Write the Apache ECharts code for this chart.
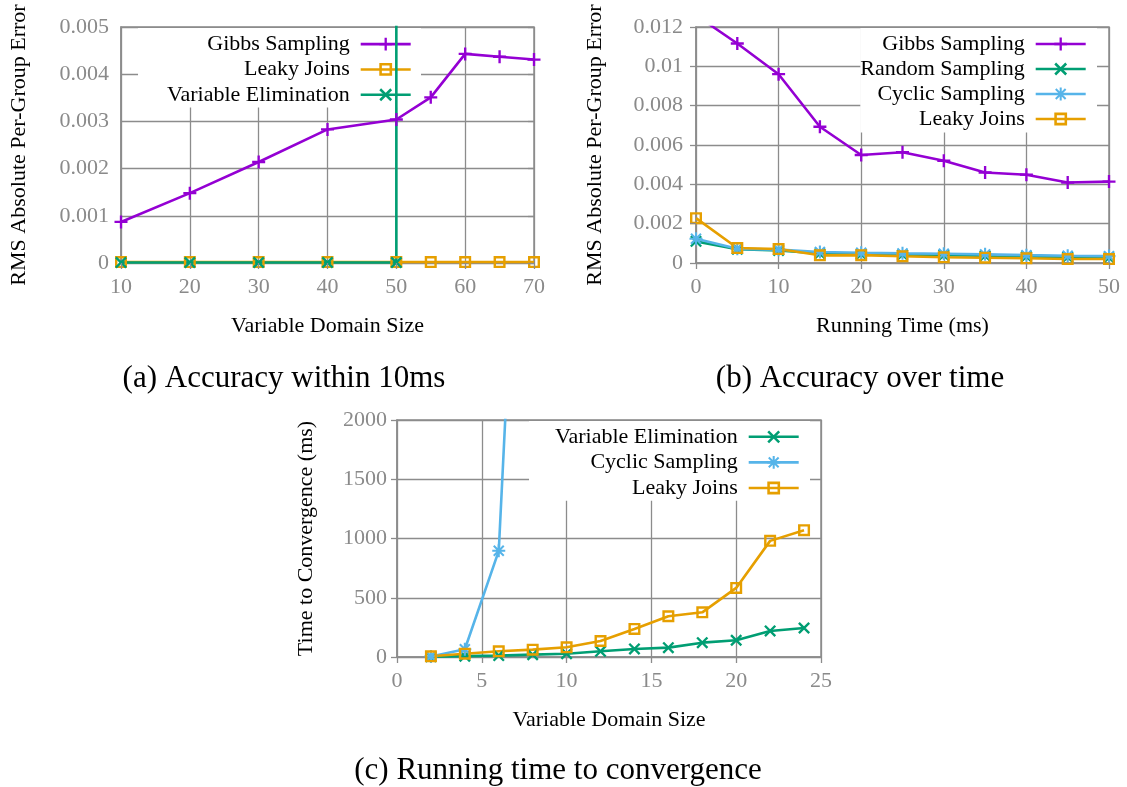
<!DOCTYPE html>
<html><head><meta charset="utf-8">
<script src="https://cdn.jsdelivr.net/npm/echarts@6/dist/echarts.min.js"></script>
<style>html,body{margin:0;padding:0;background:#fff}#c{width:1127px;height:787px}</style>
</head><body><div id="c"></div>
<script>
// ---------- Panel (a): Accuracy within 10ms ----------
const aX = [10, 20, 30, 40, 50, 55, 60, 65, 70];
const aGibbs = [0.00087, 0.00148, 0.00214, 0.00283, 0.00304, 0.00351, 0.00443, 0.00437, 0.00431];
const aLeaky = [0.00002, 0.00002, 0.00002, 0.00002, 0.00002, 0.00002, 0.00002, 0.00002, 0.00002];
const aVEX = [10, 20, 30, 40, 50, 50];
const aVE = [0.00001, 0.00001, 0.00001, 0.00001, 0.00001, 0.05];
// ---------- Panel (b): Accuracy over time ----------
const bX = [0, 5, 10, 15, 20, 25, 30, 35, 40, 45, 50];
const bGibbs = [0.0126, 0.01116, 0.0096, 0.00693, 0.00549, 0.00563, 0.0052, 0.0046, 0.00449, 0.00409, 0.00414];
const bRandom = [0.0011, 0.0007, 0.00064, 0.00048, 0.00045, 0.00042, 0.0004, 0.00037, 0.00033, 0.0003, 0.00028];
const bCyclic = [0.00123, 0.00072, 0.00068, 0.00056, 0.00052, 0.00049, 0.00047, 0.00044, 0.0004, 0.00037, 0.00035];
const bLeaky = [0.00228, 0.00076, 0.00071, 0.00039, 0.0004, 0.00034, 0.00029, 0.00027, 0.00024, 0.0002, 0.0002];
// ---------- Panel (c): Running time to convergence ----------
const cX = [2, 4, 6, 8, 10, 12, 14, 16, 18, 20, 22, 24];
const cVE = [3, 7, 12, 20, 28, 48, 68, 79, 121, 141, 220, 245];
const cCyclicX = [2, 4, 6, 8];
const cCyclic = [5, 65, 896, 6700];
const cLeaky = [6, 28, 48, 62, 82, 135, 237, 344, 377, 583, 980, 1070];

const captions = ['(a) Accuracy within 10ms', '(b) Accuracy over time', '(c) Running time to convergence'];
const xNames = ['Variable Domain Size', 'Running Time (ms)', 'Variable Domain Size'];
const yName = ['RMS Absolute Per-Group Error', 'RMS Absolute Per-Group Error', 'Time to Convergence (ms)'];

const FONT = 'Liberation Serif';
const FS = 22;
const GRAY = '#8a8a8a';
const GRID = '#8c8c8c';
const C = { gibbs: '#9400d3', green: '#009e73', blue: '#56b4e9', orange: '#e69f00' };
const SYM = {
  plus: 'path://M4.1,0H5.9V10H4.1Z M0,4.1H10V5.9H0Z',
  cross: 'path://M0,1.4L1.4,0L10,8.6L8.6,10Z M8.6,0L10,1.4L1.4,10L0,8.6Z',
  star: 'path://M4.2,0H5.8V10H4.2Z M0,4.2H10V5.8H0Z M0.6,1.7L1.7,0.6L9.4,8.3L8.3,9.4Z M8.3,0.6L9.4,1.7L1.7,9.4L0.6,8.3Z',
  square: 'path://M0,0H10V10H0Z M2,2V8H8V2Z'
};

function zip(xs, ys) { return xs.map((x, i) => [x, ys[i]]); }

function series(name, idx, xs, ys, color, sym, size) {
  return {
    name, type: 'line', xAxisIndex: idx, yAxisIndex: idx,
    data: zip(xs, ys), z: 5, clip: true,
    symbol: sym, symbolSize: size || 12, symbolKeepAspect: true,
    lineStyle: { color, width: 2.6 },
    itemStyle: { color, borderWidth: 0 },
    emphasis: { disabled: true }, animation: false
  };
}

const grids = [
  { left: 121, top: 27, width: 413, height: 236 },
  { left: 696, top: 27, width: 413, height: 236 },
  { left: 397, top: 420, width: 424, height: 237 }
];
const xCfg = [
  { min: 10, max: 70, interval: 10, labelMargin: 13, nameGap: 52 },
  { min: 0, max: 50, interval: 10, labelMargin: 13, nameGap: 52 },
  { min: 0, max: 25, interval: 5, labelMargin: 13, nameGap: 52 }
];
const yCfg = [
  { min: 0, max: 0.005, interval: 0.001, labelMargin: 12, nameGap: 91 },
  { min: 0, max: 0.012, interval: 0.002, labelMargin: 13, nameGap: 90 },
  { min: 0, max: 2000, interval: 500, labelMargin: 10, nameGap: 80 }
];

const xAxes = [], yAxes = [];
grids.forEach((g, i) => {
  xAxes.push({
    type: 'value', gridIndex: i, min: xCfg[i].min, max: xCfg[i].max, interval: xCfg[i].interval,
    name: xNames[i], nameLocation: 'middle', nameGap: xCfg[i].nameGap,
    nameTextStyle: { fontFamily: FONT, fontSize: FS, color: '#000' },
    axisLine: { show: true, lineStyle: { color: GRID, width: 1.5 } },
    axisTick: { show: false },
    axisLabel: { fontFamily: FONT, fontSize: FS, color: GRAY, margin: xCfg[i].labelMargin, formatter: v => String(v) },
    splitLine: { show: true, lineStyle: { color: GRID, width: 1.3 } }
  });
  yAxes.push({
    type: 'value', gridIndex: i, min: yCfg[i].min, max: yCfg[i].max, interval: yCfg[i].interval,
    name: yName[i], nameLocation: 'middle', nameGap: yCfg[i].nameGap,
    nameTextStyle: { fontFamily: FONT, fontSize: FS, color: '#000' },
    axisLine: { show: true, lineStyle: { color: GRID, width: 1.5 } },
    axisTick: { show: false },
    axisLabel: { fontFamily: FONT, fontSize: FS, color: GRAY, margin: yCfg[i].labelMargin,
      formatter: v => String(parseFloat(v.toPrecision(6))) },
    splitLine: { show: true, lineStyle: { color: GRID, width: 1.3 } }
  });
});
// mirrored ticks (drawn above legend boxes, as in gnuplot)
grids.forEach((g, i) => {
  xAxes.push({
    type: 'value', gridIndex: i, position: 'top', min: xCfg[i].min, max: xCfg[i].max, interval: xCfg[i].interval,
    z: 6, axisLine: { show: false }, axisLabel: { show: false }, splitLine: { show: false },
    axisTick: { show: true, inside: true, length: 6, lineStyle: { color: GRID, width: 1.3 } }
  });
  yAxes.push({
    type: 'value', gridIndex: i, position: 'right', min: yCfg[i].min, max: yCfg[i].max, interval: yCfg[i].interval,
    z: 6, axisLine: { show: false }, axisLabel: { show: false }, splitLine: { show: false },
    axisTick: { show: true, inside: true, length: 6, lineStyle: { color: GRID, width: 1.3 } }
  });
});

function legend(names, right, top, padding, lh) {
  return {
    data: names, orient: 'vertical', align: 'right', right, top, padding,
    itemGap: 0, itemWidth: 50, itemHeight: 16, selectedMode: false,
    backgroundColor: '#fff', z: 4,
    lineStyle: { width: 2.6 },
    textStyle: { fontFamily: FONT, fontSize: FS, color: '#000', lineHeight: lh, padding: [0, 6, 0, 0] }
  };
}

const option = {
  backgroundColor: '#fff',
  animation: false,
  grid: grids.map(g => Object.assign({ show: true, borderColor: GRID, borderWidth: 1.5, backgroundColor: 'transparent' }, g)),
  xAxis: xAxes,
  yAxis: yAxes,
  legend: [
    legend(['Gibbs Sampling', 'Leaky Joins', 'Variable Elimination'], 706, 28, [3.5, 9, 0, 29], 25.3),
    legend(['Gibbs Sampling', 'Random Sampling', 'Cyclic Sampling', 'Leaky Joins'], 30, 28, [3.5, 10, 1, 0], 25),
    legend(['Variable Elimination', 'Cyclic Sampling', 'Leaky Joins'], 317, 421, [3, 10, 0, 26], 25.6)
  ],
  series: [
    series('Gibbs Sampling', 0, aX, aGibbs, C.gibbs, SYM.plus, 13),
    series('Leaky Joins', 0, aX, aLeaky, C.orange, SYM.square, 12),
    series('Variable Elimination', 0, aVEX, aVE, C.green, SYM.cross, 12),
    series('Gibbs Sampling', 1, bX, bGibbs, C.gibbs, SYM.plus, 13),
    series('Random Sampling', 1, bX, bRandom, C.green, SYM.cross, 12),
    series('Cyclic Sampling', 1, bX, bCyclic, C.blue, SYM.star, 13),
    series('Leaky Joins', 1, bX, bLeaky, C.orange, SYM.square, 12),
    series('Variable Elimination', 2, cX, cVE, C.green, SYM.cross, 12),
    series('Cyclic Sampling', 2, cCyclicX, cCyclic, C.blue, SYM.star, 13),
    series('Leaky Joins', 2, cX, cLeaky, C.orange, SYM.square, 12)
  ],
  graphic: [
    { type: 'text', x: 284, y: 379, style: { text: captions[0], font: '31px "Liberation Serif"', fill: '#000', textAlign: 'center', textVerticalAlign: 'middle' } },
    { type: 'text', x: 860, y: 379, style: { text: captions[1], font: '31px "Liberation Serif"', fill: '#000', textAlign: 'center', textVerticalAlign: 'middle' } },
    { type: 'text', x: 558, y: 771, style: { text: captions[2], font: '31px "Liberation Serif"', fill: '#000', textAlign: 'center', textVerticalAlign: 'middle' } }
  ]
};

const chart = echarts.init(document.getElementById('c'), null, { renderer: 'canvas' });
chart.setOption(option);
</script>
</body></html>
